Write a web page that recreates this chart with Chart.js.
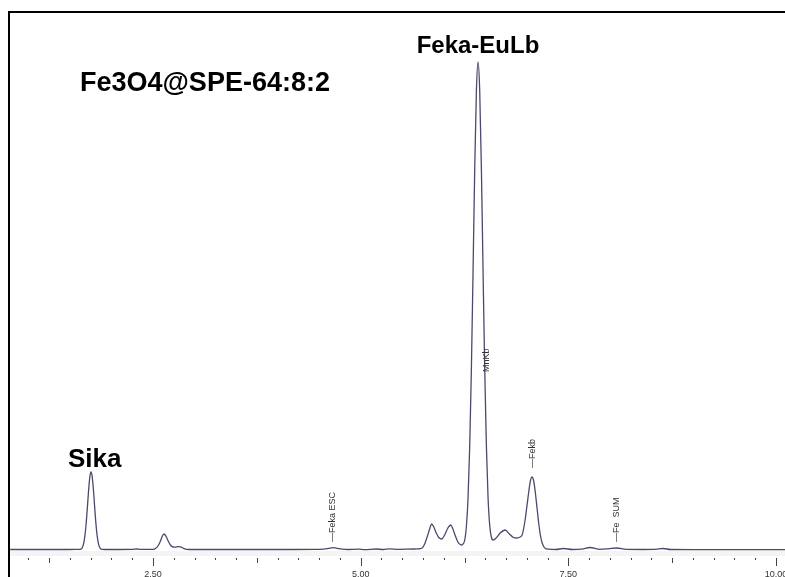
<!DOCTYPE html>
<html>
<head>
<meta charset="utf-8">
<script src="https://cdn.jsdelivr.net/npm/chart.js@4.4.0/dist/chart.umd.min.js"></script>
<style>
  html, body { margin: 0; padding: 0; background: #fff; }
  #wrap { width: 785px; height: 577px; position: relative; }
</style>
</head>
<body>
<div id="wrap"><canvas id="spec" width="785" height="577"></canvas></div>
<script>
// spectrum (keV / counts, arbitrary units)
const energy = [
  0.78, 1.00, 1.30, 1.50, 1.60, 1.634, 1.649, 1.664, 1.679, 1.694, 1.709, 1.724, 1.739, 1.754,
  1.769, 1.784, 1.799, 1.814, 1.829, 1.844, 1.859, 1.874, 1.92, 2.10, 2.25, 2.30, 2.35,
  2.50, 2.53, 2.56, 2.59, 2.61, 2.633, 2.655, 2.68, 2.71, 2.74, 2.77, 2.80, 2.83, 2.86, 2.89, 2.93,
  3.30, 3.70, 4.10, 4.45, 4.58, 4.67, 4.75, 4.85, 4.97, 5.05, 5.19, 5.27, 5.35, 5.45, 5.55, 5.65,
  5.70, 5.74, 5.77, 5.80, 5.83, 5.855, 5.88, 5.91, 5.94, 5.976, 6.01, 6.05, 6.084, 6.11, 6.14,
  6.17, 6.20, 6.217, 6.233, 6.253, 6.273, 6.293, 6.313, 6.333, 6.353, 6.373, 6.393, 6.413,
  6.433, 6.453, 6.473, 6.493, 6.513, 6.533, 6.553, 6.573, 6.593, 6.63, 6.68, 6.74, 6.79, 6.84,
  6.878, 6.92, 6.943, 6.963, 6.983, 7.003, 7.023, 7.043, 7.063, 7.083, 7.103, 7.123, 7.143,
  7.163, 7.183, 7.203, 7.223, 7.26, 7.35, 7.44, 7.55, 7.66, 7.76, 7.88, 7.98, 8.08, 8.20,
  8.40, 8.55, 8.64, 8.73, 9.00, 9.50, 10.108
];
const counts = [
  0.5, 0.5, 0.5, 0.5, 0.7, 0.9, 2.5, 6.2, 13.4, 25.3, 41.4, 58.9, 72.7, 78,
  72.7, 58.9, 41.4, 25.3, 13.4, 6.2, 2.5, 0.9, 0.5, 0.5, 0.6, 1.0, 0.6,
  0.7, 1.5, 4, 9, 13.5, 16, 14, 9.5, 5, 3, 2.8, 3.3, 3.2, 2, 0.9, 0.5,
  0.5, 0.5, 0.5, 0.6, 1.2, 2.3, 1.2, 0.5, 0.8, 0.3, 1.0, 0.5, 1.2, 0.7, 0.8, 1.0,
  1.2, 2, 6, 13, 21, 26, 23, 17, 12.5, 11, 15, 22, 25, 21, 14,
  8, 5.5, 5, 6, 10, 24, 53, 105, 182, 280, 382, 459, 488,
  459, 382, 280, 182, 105, 53, 25, 13, 10, 12, 17, 20, 16, 12.5,
  12, 13, 15, 22, 32, 45, 58, 69, 73, 69, 57, 42, 27,
  15, 7.5, 3.5, 1.5, 0.8, 0.5, 1.5, 0.5, 0.8, 2.5, 0.7, 1.2, 2, 0.6,
  0.5, 0.6, 1.5, 0.5, 0.4, 0.4, 0.4
];

const tickValues = [2.5, 5, 7.5, 10];
const tickLabels = ["2.50", "5.00", "7.50", "10.00"];

const peakNames = ["\u2014Feka ESC", "MnKb", "\u2014Fekb", "\u2014Fe  SUM"];
const peakEnergy = [4.66, 6.51, 7.063, 8.083];

const points = energy.map((e, i) => ({ x: e, y: counts[i] }));

const decor = {
  id: "decor",
  beforeDatasetsDraw(chart) {
    const { ctx, chartArea } = chart;
    const y0 = chart.scales.y.getPixelForValue(0);
    ctx.save();
    ctx.fillStyle = "#f4f4f4";
    ctx.fillRect(chartArea.left, y0 + 1, chartArea.right - chartArea.left, 5);
    ctx.restore();
  },
  afterDraw(chart) {
    const { ctx } = chart;
    const xs = chart.scales.x;
    ctx.save();

    // frame
    ctx.fillStyle = "#000";
    ctx.fillRect(8, 11, 2, 577 - 11);
    ctx.fillRect(8, 11, 785 - 8, 2);

    // ticks every 0.25 keV
    ctx.strokeStyle = "#444";
    ctx.lineWidth = 1;
    for (let k = 4; k <= 40; k++) {
      const v = k * 0.25;
      const px = Math.round(xs.getPixelForValue(v)) + 0.5;
      let len = 2;
      if (k % 10 === 0) len = 8;
      else if (k % 5 === 0) len = 5;
      ctx.beginPath();
      ctx.moveTo(px, 558);
      ctx.lineTo(px, 558 + len);
      ctx.stroke();
    }

    ctx.fillStyle = "#333";
    ctx.font = "9px 'Liberation Sans', Arial, sans-serif";
    ctx.textAlign = "center";
    ctx.textBaseline = "alphabetic";
    tickValues.forEach((v, i) => {
      ctx.fillText(tickLabels[i], xs.getPixelForValue(v), 577);
    });

    // peak markers (rotated)
    ctx.font = "9px 'Liberation Sans', Arial, sans-serif";
    ctx.fillStyle = "#333";
    const startY = [542, 372, 468, 542];
    peakNames.forEach((name, i) => {
      ctx.save();
      ctx.translate(xs.getPixelForValue(peakEnergy[i]), startY[i]);
      ctx.rotate(-Math.PI / 2);
      ctx.textAlign = "left";
      ctx.textBaseline = "middle";
      ctx.fillText(name, 0, 0);
      ctx.restore();
    });

    // bold annotations
    ctx.fillStyle = "#000";
    ctx.textBaseline = "alphabetic";
    ctx.font = "bold 24px 'Liberation Sans', Arial, sans-serif";
    ctx.textAlign = "center";
    ctx.fillText("Feka-EuLb", 478, 53);
    ctx.textAlign = "left";
    ctx.font = "bold 26px 'Liberation Sans', Arial, sans-serif";
    ctx.fillText("Sika", 68, 467);
    ctx.font = "bold 27px 'Liberation Sans', Arial, sans-serif";
    ctx.fillText("Fe3O4@SPE-64:8:2", 80, 91);

    ctx.restore();
  }
};

new Chart(document.getElementById("spec"), {
  type: "line",
  data: {
    datasets: [{
      data: points,
      borderColor: "#4a4a6e",
      borderWidth: 1.3,
      pointRadius: 0,
      fill: false,
      cubicInterpolationMode: "monotone"
    }]
  },
  options: {
    responsive: false,
    animation: false,
    layout: { padding: { left: 10, right: 0, top: 13, bottom: 21 } },
    plugins: { legend: { display: false }, tooltip: { enabled: false } },
    scales: {
      x: { type: "linear", min: 0.7785, max: 10.108, display: false },
      y: { min: -6, max: 537, display: false }
    }
  },
  plugins: [decor]
});
</script>
</body>
</html>
